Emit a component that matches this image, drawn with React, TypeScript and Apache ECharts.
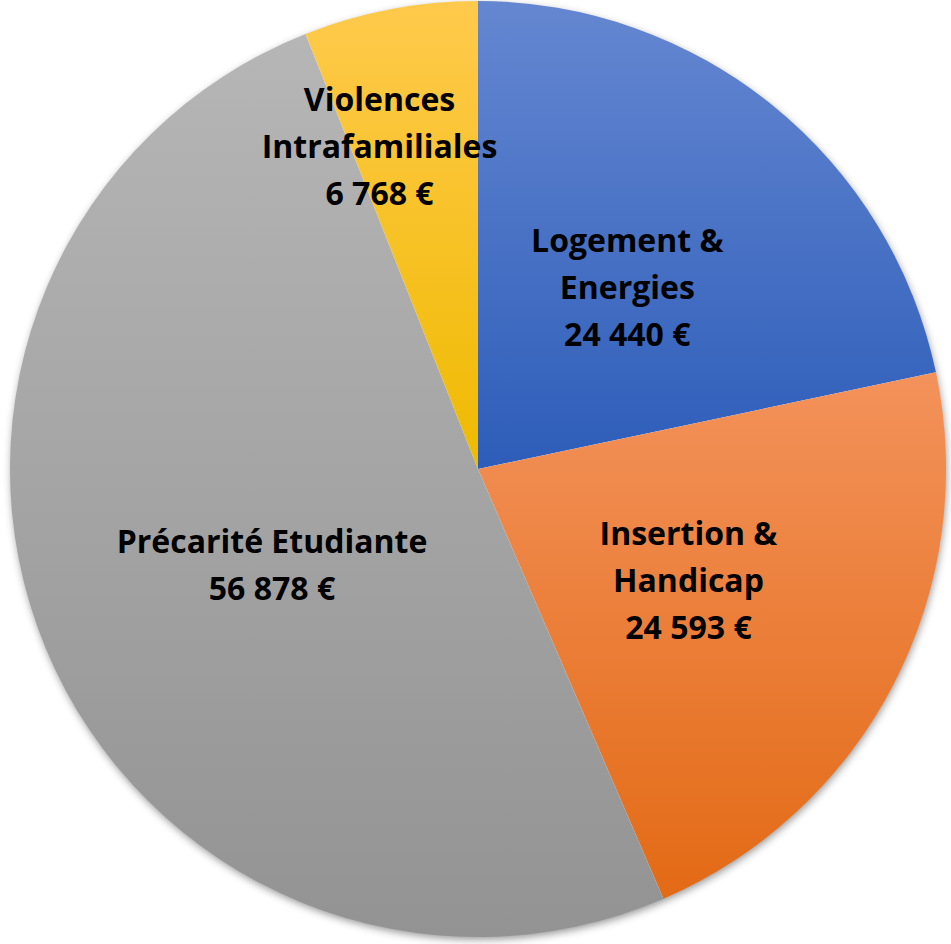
import React, { useEffect, useRef } from "react";
import * as echarts from "echarts";

const categories = [
  "Logement & Energies",
  "Insertion & Handicap",
  "Précarité Etudiante",
  "Violences Intrafamiliales",
];
const values = [24440, 24593, 56878, 6768];
const labelNames = [
  "Logement &\nEnergies",
  "Insertion &\nHandicap",
  "Précarité Etudiante",
  "Violences\nIntrafamiliales",
];
const gradients = [
  ["#6587d1", "#2d5db9"],
  ["#f3925b", "#e36a15"],
  ["#b6b6b6", "#939393"],
  ["#ffca4c", "#efba00"],
];
const labelOffsets = [
  [0, 2],
  [0, 2],
  [13, 4],
  [-54, -91],
];

function fmt(v: number): string {
  return v.toString().replace(/\B(?=(\d{3})+(?!\d))/g, " ") + " €";
}

export default function App() {
  const ref = useRef<HTMLDivElement>(null);
  useEffect(() => {
    if (!ref.current) return;
    const chart = echarts.init(ref.current, null, { renderer: "svg" });
    const data = categories.map((name, i) => ({
      name,
      value: values[i],
      itemStyle: {
        color: new echarts.graphic.LinearGradient(0, 0, 0, 1, [
          { offset: 0, color: gradients[i][0] },
          { offset: 1, color: gradients[i][1] },
        ]),
      },
      label: {
        formatter: () => labelNames[i] + "\n" + fmt(values[i]),
      },
    }));
    chart.setOption({
      animation: false,
      backgroundColor: "#ffffff",
      series: [
        {
          type: "pie",
          silent: true,
          center: [478, 469],
          radius: [0, 467],
          data: [{ value: 1, name: "shadow" }],
          label: { show: false },
          labelLine: { show: false },
          itemStyle: {
            color: "#ffffff",
            shadowBlur: 8,
            shadowColor: "rgba(0,0,0,0.45)",
            shadowOffsetY: 3,
            shadowOffsetX: 1,
          },
        },
        {
          type: "pie",
          silent: true,
          center: [478, 469],
          radius: [0, 468],
          startAngle: 90,
          clockwise: true,
          avoidLabelOverlap: false,
          data,
          label: {
            show: true,
            position: "inside",
            color: "#000000",
            fontFamily: "Open Sans",
            fontWeight: "bold",
            fontSize: 32,
            lineHeight: 47,
            align: "center",
          },
          labelLine: { show: false },
          labelLayout: (params: any) => ({
            dx: labelOffsets[params.dataIndex][0],
            dy: labelOffsets[params.dataIndex][1],
          }),
          emphasis: { disabled: true },
        },
      ],
    });
    return () => chart.dispose();
  }, []);
  return (
    <div
      ref={ref}
      style={{ position: "absolute", left: 0, top: 0, width: 951, height: 944 }}
    />
  );
}
